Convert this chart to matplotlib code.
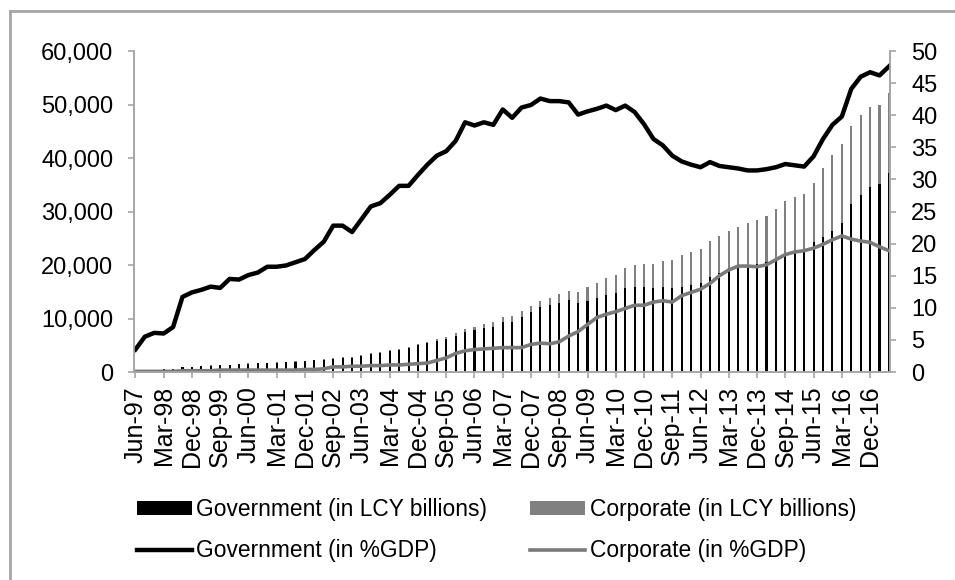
import matplotlib
matplotlib.use("Agg")
import matplotlib.pyplot as plt
from matplotlib.lines import Line2D
from matplotlib.ticker import FuncFormatter

plt.rcParams['font.family'] = ['Liberation Sans', 'DejaVu Sans']

# quarterly, Jun-97 .. Jun-17
months = ['Mar', 'Jun', 'Sep', 'Dec']
quarters = []
for yr in range(1997, 2018):
    for m in months:
        quarters.append('%s-%02d' % (m, yr % 100))
quarters = quarters[1:quarters.index('Jun-17') + 1]

# LCY billions
gov_lcy = [290, 370, 440, 505, 600, 845, 970, 1070, 1215, 1260,
           1360, 1410, 1555, 1605, 1700, 1750, 1850, 1925, 2045, 2160,
           2310, 2475, 2650, 2630, 3060, 3360, 3540, 3950, 4140, 4430,
           5020, 5430, 5800, 6090, 6730, 7470, 7760, 8160, 8480, 9350,
           9400, 10340, 11270, 12210, 12520, 12950, 13460, 12950, 13330, 13770,
           14390, 14710, 15640, 15950, 15950, 15640, 15830, 15640, 15950, 16260,
           16570, 17700, 18440, 19380, 19690, 20000, 20190, 20620, 21250, 22180,
           22680, 22800, 24360, 25290, 26410, 27910, 31400, 33080, 34640, 35140,
           37250]
corp_lcy = [10, 10, 10, 15, 20, 25, 30, 30, 35, 40,
            40, 40, 45, 45, 50, 50, 50, 55, 55, 60,
            60, 85, 90, 110, 120, 130, 140, 160, 160, 180,
            210, 240, 310, 390, 500, 630, 710, 750, 810, 870,
            1070, 1120, 1070, 1060, 1250, 1570, 1680, 2070, 2500, 2800,
            3120, 3420, 3740, 4050, 4240, 4550, 4970, 5290, 5860, 6170,
            6480, 6790, 6980, 6970, 7470, 7790, 8220, 8600, 9220, 9780,
            10090, 10470, 10910, 12900, 14150, 14710, 14640, 14900, 14950, 14770,
            14840]

# % of GDP
gov_gdp = [3.5, 5.5, 6.1, 6.0, 7.0, 11.7, 12.4, 12.8, 13.3, 13.1,
           14.5, 14.4, 15.1, 15.5, 16.4, 16.4, 16.6, 17.1, 17.6, 19.0,
           20.3, 22.8, 22.8, 21.8, 23.8, 25.8, 26.3, 27.6, 29.0, 29.0,
           30.7, 32.3, 33.7, 34.4, 36.0, 38.9, 38.4, 38.9, 38.5, 40.9,
           39.6, 41.2, 41.6, 42.6, 42.2, 42.2, 42.0, 40.1, 40.6, 41.0,
           41.5, 40.8, 41.5, 40.5, 38.6, 36.3, 35.3, 33.7, 32.8, 32.3,
           31.9, 32.7, 32.1, 31.9, 31.7, 31.4, 31.4, 31.6, 31.9, 32.4,
           32.2, 32.0, 33.6, 36.3, 38.5, 39.8, 44.1, 46.0, 46.7, 46.2,
           47.6]
corp_gdp = [0.1, 0.1, 0.1, 0.1, 0.1, 0.2, 0.2, 0.2, 0.2, 0.3,
            0.3, 0.3, 0.3, 0.3, 0.3, 0.3, 0.3, 0.3, 0.4, 0.4,
            0.5, 0.8, 0.8, 0.9, 0.9, 1.0, 1.0, 1.1, 1.1, 1.2,
            1.3, 1.4, 1.8, 2.2, 2.9, 3.3, 3.5, 3.6, 3.7, 3.8,
            3.8, 3.8, 4.3, 4.5, 4.4, 4.7, 5.6, 6.3, 7.4, 8.5,
            9.0, 9.4, 9.9, 10.4, 10.4, 10.9, 11.1, 10.9, 11.9, 12.4,
            12.9, 13.8, 15.0, 15.9, 16.5, 16.5, 16.4, 16.7, 17.5, 18.3,
            18.7, 18.9, 19.3, 19.9, 20.6, 21.2, 20.7, 20.4, 20.2, 19.5,
            18.9]

AXIS_GRAY = '#a6a6a6'
BAR_GRAY = '#808080'
LINE_GRAY = '#7a7a7a'

fig = plt.figure(figsize=(9.55, 5.8), dpi=100)
ax = fig.add_axes([0.1403, 0.3586, 0.792, 0.5534])
ax2 = ax.twinx()

x = list(range(len(quarters)))
b1 = ax.bar(x, gov_lcy, width=0.22, color='black', label='Government (in LCY billions)')
b2 = ax.bar(x, corp_lcy, width=0.22, bottom=gov_lcy, color=BAR_GRAY,
            label='Corporate (in LCY billions)')
l1, = ax2.plot(x, gov_gdp, color='black', lw=3.2, label='Government (in %GDP)',
               solid_joinstyle='round')
l2, = ax2.plot(x, corp_gdp, color=LINE_GRAY, lw=2.6, label='Corporate (in %GDP)',
               solid_joinstyle='round')

ax.set_xlim(-0.15, 80.15)
ax.set_ylim(0, 60000)
ax.set_yticks(range(0, 60001, 10000))
ax.yaxis.set_major_formatter(FuncFormatter(lambda v, p: '{:,.0f}'.format(v)))
ax2.set_ylim(0, 50)
ax2.set_yticks(range(0, 51, 5))

ax.set_xticks(x[::3])
ax.set_xticklabels(quarters[::3], rotation=90)

for a in (ax, ax2):
    a.spines['top'].set_visible(False)
    for s in ('left', 'right', 'bottom'):
        a.spines[s].set_color(AXIS_GRAY)
        a.spines[s].set_linewidth(1.2)
    a.tick_params(colors=AXIS_GRAY, labelcolor='black', labelsize=17,
                  length=4, width=1.2)
ax.tick_params(axis='y', pad=11)
ax2.tick_params(axis='y', pad=11)
ax.tick_params(axis='x', pad=6, labelsize=18)

fig.legend([b1, l1, b2, l2],
           ['Government (in LCY billions)', 'Government (in %GDP)',
            'Corporate (in LCY billions)', 'Corporate (in %GDP)'],
           ncol=2, loc='center', bbox_to_anchor=(0.52, 0.086),
           frameon=False, fontsize=16.4, handlelength=2.4, handleheight=0.6,
           handletextpad=0.2, columnspacing=1.9, labelspacing=0.8)

# chart area border (top and left visible)
fig.add_artist(Line2D([0.0105, 1.0], [0.981, 0.981], color=AXIS_GRAY, lw=2))
fig.add_artist(Line2D([0.0105, 0.0105], [0.0, 0.981], color=AXIS_GRAY, lw=2))

fig.savefig('out.png', dpi=100)
